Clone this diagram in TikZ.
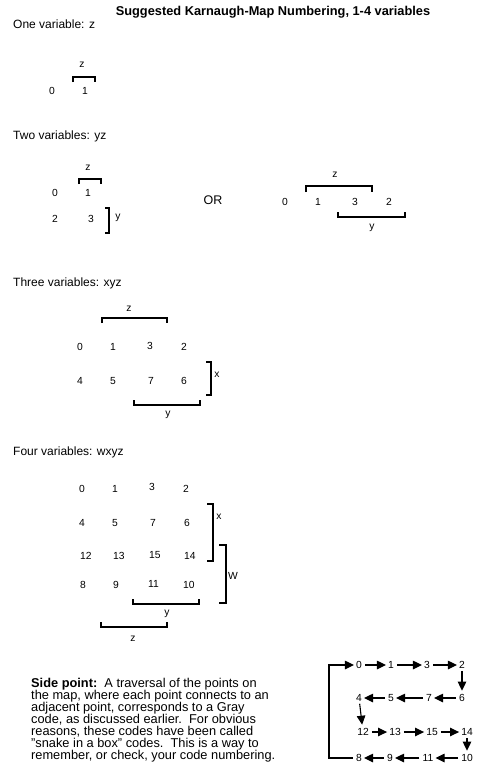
\documentclass[tikz,border=0pt]{standalone}
\usepackage{fontspec}
\setmainfont{Liberation Sans}
\usetikzlibrary{arrows.meta}

\begin{document}
\begin{tikzpicture}[x=1pt,y=-1pt]
    \useasboundingbox (0,0) rectangle (478,776);

    \tikzset{num/.style={inner sep=0pt, font=\fontsize{10.3}{12}\selectfont},
             gnum/.style={num, anchor=west},
             head/.style={anchor=west, inner sep=0pt, font=\fontsize{12}{14}\selectfont},
             brk/.style={line width=1.2pt},
             snum/.style={inner sep=1pt, font=\fontsize{10.3}{12}\selectfont},
             arr/.style={line width=1.1pt, -{Triangle[length=9pt,width=8.5pt]}, shorten <=2pt, shorten >=1pt},
             varr/.style={arr, shorten <=1pt, shorten >=2.5pt}}

    \node[font=\bfseries\fontsize{12.8}{14}\selectfont, inner sep=0pt] (title) at (273,12) {Suggested Karnaugh-Map Numbering, 1-4 variables};

    % one variable
    \node[head] (one) at (13,24) {One variable: z};
    \node[num] (a0) at (52,91) {0};
    \node[num] (a1) at (85,91) {1};
    \draw[brk] (73,82) -- (73,77) -- (95,77) -- (95,82);
    \node[num] (az) at (82,65) {z};

    % two variables
    \node[head] (two) at (13,136) {Two variables: yz};
    \foreach \n/\x/\y in {0/55/193, 1/88/193, 2/55/219, 3/91/219} {
        \node[num] (b\n) at (\x,\y) {\n};
    }
    \draw[brk] (79,184) -- (79,179) -- (101,179) -- (101,184);
    \node[num] (bz) at (88,168) {z};
    \draw[brk] (105,208) -- (109,208) -- (109,233) -- (105,233);
    \node[num] (by) at (118,218) {y};

    \node[inner sep=0pt, font=\fontsize{12.5}{14}\selectfont] (or) at (213,200) {OR};

    \foreach \n/\x in {0/285, 1/318, 3/355, 2/389} {
        \node[num] (c\n) at (\x,202) {\n};
    }
    \draw[brk] (306,192) -- (306,186) -- (372,186) -- (372,192);
    \node[num] (cz) at (335,175) {z};
    \draw[brk] (338,212) -- (338,217) -- (405,217) -- (405,212);
    \node[num] (cy) at (372,228) {y};

    % three variables
    \node[head] (three) at (13,283) {Three variables: xyz};
    \foreach \n/\x/\y in {0/77/347, 1/110/347, 3/147/346, 2/181/347,
                          4/77/381, 5/110/381, 7/148/381, 6/181/381} {
        \node[gnum] (t\n) at (\x,\y) {\n};
    }
    \draw[brk] (102,323) -- (102,318) -- (167,318) -- (167,323);
    \node[num] (tz) at (129,309) {z};
    \draw[brk] (206,362) -- (211,362) -- (211,395) -- (206,395);
    \node[num] (tx) at (217,375) {x};
    \draw[brk] (134,400) -- (134,405) -- (200,405) -- (200,400);
    \node[num] (ty) at (168,415) {y};

    % four variables
    \node[head] (four) at (13,452) {Four variables: wxyz};
    \foreach \n/\x/\y in {0/79/489, 1/112/489, 3/149/487, 2/183/489,
                          4/79/523, 5/112/523, 7/150/523, 6/184/523,
                          12/80/556, 13/113/556, 15/149/555, 14/184/556,
                          8/80/585, 9/113/585, 11/148/584, 10/183/585} {
        \node[gnum] (f\n) at (\x,\y) {\n};
    }
    \draw[brk] (207,504) -- (213,504) -- (213,561) -- (207,561);
    \node[num] (fx) at (219,517) {x};
    \draw[brk] (219,545) -- (226,545) -- (226,603) -- (219,603);
    \node[num] (fw) at (233,576) {W};
    \draw[brk] (133,599) -- (133,604) -- (199,604) -- (199,599);
    \node[num] (fy) at (167,614) {y};
    \draw[brk] (101,622) -- (101,627) -- (167,627) -- (167,622);
    \node[num] (fz) at (133,639) {z};

    % side point
    \node[anchor=north west, align=left, inner sep=0pt, font=\fontsize{12.8}{12}\selectfont] (side) at (31,678)
        {\textbf{Side point:}\ \ A traversal of the points on\\
         the map, where each point connects to an\\
         adjacent point, corresponds to a Gray\\
         code, as discussed earlier.\ \ For obvious\\
         reasons, these codes have been called\\
         "snake in a box" codes.\ \ This is a way to\\
         remember, or check, your code numbering.};

    % snake in a box
    \foreach \n/\x/\y in {0/359/665, 1/391/665, 3/427/665, 2/462/665,
                          4/359/698, 5/391/698, 7/429/698, 6/462/698,
                          12/363/732, 13/395/732, 15/432/732, 14/467/732,
                          8/359/758, 9/390/758, 11/428/758, 10/467/758} {
        \node[snum] (s\n) at (\x,\y) {\n};
    }
    \coordinate (loop) at (329,758);

    \draw[arr] (s0) -- (s1);
    \draw[arr] (s1) -- (s3);
    \draw[arr] (s3) -- (s2);
    \draw[varr] (s2) -- (s6);
    \draw[arr] (s6) -- (s7);
    \draw[arr] (s7) -- (s5);
    \draw[arr] (s5) -- (s4);
    \draw[varr] (s4) -- (s12);
    \draw[arr] (s12) -- (s13);
    \draw[arr] (s13) -- (s15);
    \draw[arr] (s15) -- (s14);
    \draw[varr] (s14) -- (s10);
    \draw[arr] (s10) -- (s11);
    \draw[arr] (s11) -- (s9);
    \draw[arr] (s9) -- (s8);
    \draw[arr] (s8) -- (loop) |- (s0);

\end{tikzpicture}
\end{document}
